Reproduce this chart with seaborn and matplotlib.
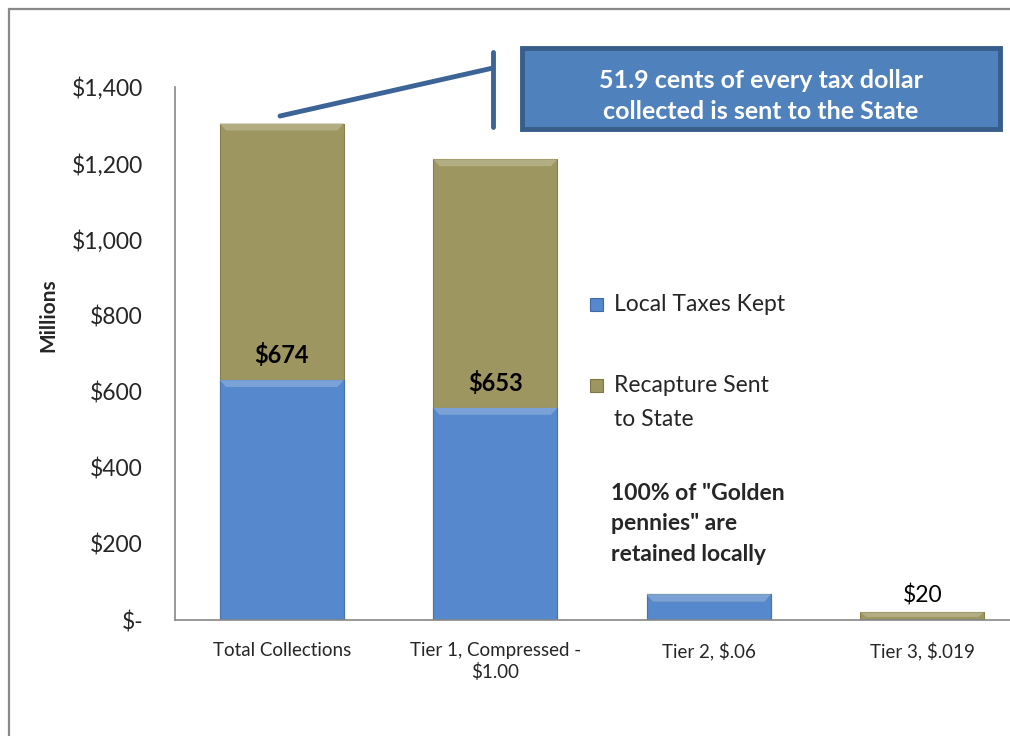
import matplotlib
matplotlib.use("Agg")
import matplotlib.pyplot as plt
from matplotlib.patches import Rectangle, Polygon
from matplotlib.lines import Line2D
import matplotlib.colors as mcolors
import seaborn as sns
import pandas as pd

# Property tax collections, in millions
categories = ["Total Collections", "Tier 1, Compressed -\n$1.00", "Tier 2, $.06", "Tier 3, $.019"]
local_kept = [630, 557, 67, 0]
recapture_sent = [674, 653, 0, 20]
yticks = [0, 200, 400, 600, 800, 1000, 1200, 1400]
ytick_labels = ["$-", "$200", "$400", "$600", "$800", "$1,000", "$1,200", "$1,400"]

BLUE = "#5588CC"
OLIVE = "#9E9660"

sns.set_theme(style="white")
plt.rcParams["font.family"] = ["Lato", "DejaVu Sans"]

df = pd.DataFrame({
    "category": categories,
    "local": local_kept,
    "recapture": recapture_sent,
})
df["total"] = df["local"] + df["recapture"]

fig = plt.figure(figsize=(10.10, 7.36), dpi=100)
ax = fig.add_axes([175 / 1010, 116 / 736, 854 / 1010, 533 / 736])

# stacked bars: totals behind (olive), local share in front (blue)
sns.barplot(data=df, x="category", y="total", color=OLIVE, saturation=1,
            width=0.58, ax=ax, edgecolor="#858048", linewidth=0.8)
sns.barplot(data=df, x="category", y="local", color=BLUE, saturation=1,
            width=0.58, ax=ax, edgecolor="#4674b0", linewidth=0.8)

ax.set_ylim(0, 1400)
ax.set_xlim(-0.5, 3.5)

# soft bevel along the top edge of every segment (trapezoid highlight)
for p in list(ax.patches):
    h = p.get_height()
    if h <= 0:
        continue
    base = mcolors.to_rgb(p.get_facecolor())
    light = tuple(min(1, c + (1 - c) * 0.22) for c in base)
    x0, w, top = p.get_x(), p.get_width(), p.get_y() + h
    strip = min(18, h * 0.6)
    inset = w * 0.05
    ax.add_patch(Polygon([(x0, top), (x0 + w, top), (x0 + w - inset, top - strip),
                          (x0 + inset, top - strip)], closed=True, facecolor=light,
                         edgecolor="none", zorder=p.get_zorder() + 0.1))

ax.set_yticks(yticks)
ax.set_yticklabels(ytick_labels, fontsize=16.5)
ax.tick_params(axis="y", pad=23, length=0)
ax.tick_params(axis="x", pad=16, length=0, labelsize=13.5)
for lbl in ax.get_xticklabels():
    lbl.set_linespacing(1.25)
ax.set_xlabel("")
ax.set_ylabel("Millions", fontsize=15, fontweight="bold")
ax.yaxis.set_label_coords(-0.136, 0.572)

for side in ["top", "right"]:
    ax.spines[side].set_visible(False)
for side in ["left", "bottom"]:
    ax.spines[side].set_color("#888888")
    ax.spines[side].set_linewidth(1.2)

# value labels on the recapture segments
for i in (0, 1):
    ax.annotate(f"${recapture_sent[i]}", xy=(i, local_kept[i]), xytext=(0, 18),
                textcoords="offset points", ha="center", va="center",
                fontsize=17, fontweight="bold", color="black")
ax.annotate(f"${recapture_sent[3]}", xy=(3, local_kept[3] + recapture_sent[3]),
            xytext=(0, 12), textcoords="offset points", ha="center", va="center",
            fontsize=16.5, color="black")

# legend
fig.patches.append(Rectangle((590 / 1010, 1 - 311 / 736), 13 / 1010, 13 / 736,
                             transform=fig.transFigure, facecolor=BLUE,
                             edgecolor="#3f6aa5", linewidth=0.8))
fig.text(614 / 1010, 1 - 304 / 736, "Local Taxes Kept", fontsize=16.5,
         va="center", ha="left")
fig.patches.append(Rectangle((590 / 1010, 1 - 392 / 736), 13 / 1010, 13 / 736,
                             transform=fig.transFigure, facecolor=OLIVE,
                             edgecolor="#7d7645", linewidth=0.8))
fig.text(614 / 1010, 1 - 385 / 736, "Recapture Sent", fontsize=16.5,
         va="center", ha="left")
fig.text(614 / 1010, 1 - 420 / 736, "to State", fontsize=16.5,
         va="center", ha="left")

fig.text(611 / 1010, 1 - 524 / 736, '100% of "Golden\npennies" are\nretained locally',
         fontsize=16.5, fontweight="bold", va="center", ha="left", linespacing=1.55)

# callout box with leader line
fig.patches.append(Rectangle((522 / 1010, 1 - 129 / 736), 478 / 1010, 81 / 736,
                             transform=fig.transFigure, facecolor="#4F81BD",
                             edgecolor="#385D8A", linewidth=3.5))
fig.text(761 / 1010, 1 - 96 / 736, "51.9 cents of every tax dollar\ncollected is sent to the State",
         fontsize=18, fontweight="bold", color="white", ha="center", va="center",
         linespacing=1.45)
fig.lines.append(Line2D([280 / 1010, 493 / 1010], [1 - 116 / 736, 1 - 68 / 736],
                        transform=fig.transFigure, color="#3C6496", linewidth=3.5))
fig.lines.append(Line2D([493 / 1010, 493 / 1010], [1 - 52 / 736, 1 - 127 / 736],
                        transform=fig.transFigure, color="#3C6496", linewidth=3.5))

# outer chart frame
fig.patches.append(Rectangle((9 / 1010, -0.05), 1.1, 1.05 - 9 / 736,
                             transform=fig.transFigure, facecolor="none",
                             edgecolor="#888888", linewidth=1.6))

fig.savefig("out.png", dpi=100, facecolor="white")
